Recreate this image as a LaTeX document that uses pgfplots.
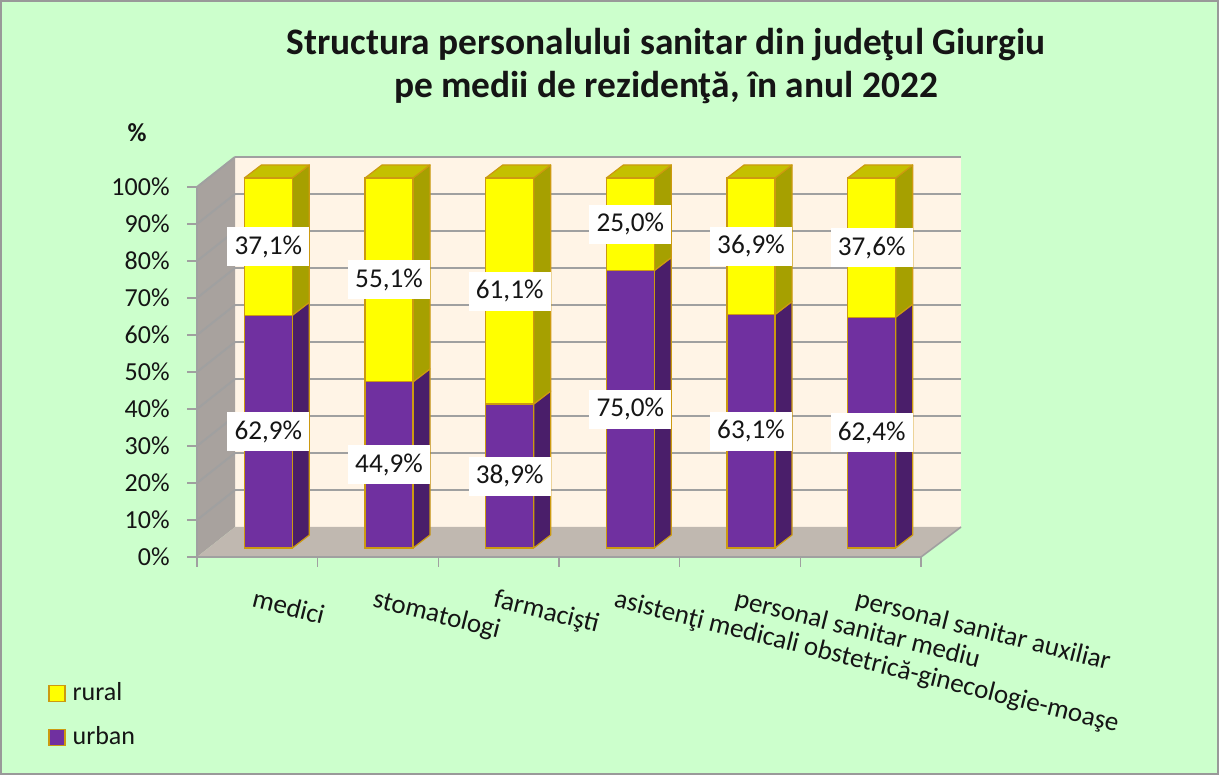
\documentclass[border=0pt]{standalone}
\usepackage{pgfplots}
\pgfplotsset{compat=1.18}
\usepackage{pgfplotstable}
\usepackage{fontspec}
\setmainfont{Carlito}

\definecolor{bgc}{HTML}{CCFFCC}
\definecolor{wallc}{HTML}{FFF4E6}
\definecolor{floorc}{HTML}{C0B8B0}
\definecolor{leftc}{HTML}{A8A29E}
\definecolor{gridc}{HTML}{A0A0A0}
\definecolor{purp}{HTML}{7030A0}
\definecolor{purpside}{HTML}{4A1E6A}
\definecolor{yel}{HTML}{FFFF00}
\definecolor{yelside}{HTML}{A6A000}
\definecolor{yeltop}{HTML}{C4C000}
\definecolor{edgec}{HTML}{CC9A10}
\definecolor{txt}{HTML}{151515}

\pgfplotstableread{
x urban rural
0 62.9 37.1
1 44.9 55.1
2 38.9 61.1
3 75.0 25.0
4 63.1 36.9
5 62.4 37.6
}\data

% bar half width and depth offset, in axis units (1 unit = 60.333pt in x, 1.85pt in y)
\def\hw{0.19890}
\def\ddx{0.14089}
\def\ddy{3.5135}

\pgfplotsset{plane/.style={anchor=south west, scale only axis, width=362pt, height=185pt,
  xmin=-0.5, xmax=5.5, ymin=0, ymax=100,
  enlarge x limits=false, enlarge y limits=false, clip=false,
  axis line style={draw=none}, major tick length=0pt}}

\begin{document}
\begin{tikzpicture}[x=1pt,y=1pt]
\useasboundingbox (0,0) rectangle (609.5,387.5);
\fill[bgc] (0,0) rectangle (609.5,387.5);
\draw[gray!80, line width=0.8pt] (0.4,0.4) rectangle (609.1,387.1);

\node[align=center, text=txt, font=\bfseries\fontsize{18.7}{21.5}\selectfont] at (333,354.3) {Structura personalului sanitar din judeţul Giurgiu\\pe medii de rezidenţă, în anul 2022};
\node[text=txt, font=\bfseries\fontsize{13}{15}\selectfont] at (68.5,321) {\%};

% walls (front plane x 98.5..460.5, y 109..294; back plane x 117.5..479.5, y 124..309)
\fill[wallc] (117.5,124) rectangle (480.5,309);
\fill[leftc] (98.5,109) -- (98.5,294) -- (117.5,309) -- (117.5,124) -- cycle;
\fill[floorc] (98.5,109) -- (460.5,109) -- (480.5,124) -- (117.5,124) -- cycle;
\draw[gridc, line width=0.8pt] (460.5,109) -- (480.5,124);
\foreach \v in {10,20,...,100} {
  \draw[gridc, line width=1pt] (98.5,{109+1.85*\v}) -- (117.5,{124+1.85*\v});
}

% back plane grid
\begin{axis}[plane, at={(117.5pt,124pt)}, width=363pt,
  xtick=\empty, ytick={10,20,...,100}, yticklabels={},
  ymajorgrids, grid style={gridc, line width=1pt}]
\end{axis}

% front plane axis lines and ticks
\draw[gridc, line width=0.8pt] (98.5,294) -- (98.5,109) -- (460.5,109);
\foreach \v in {0,10,...,100} {
  \draw[gridc, line width=0.8pt] (98.5,{109+1.85*\v}) -- (93.5,{109+1.85*\v});
}
\foreach \i in {0,...,6} {
  \draw[gridc, line width=0.8pt] ({98.5+60.333*\i},109) -- ({98.5+60.333*\i},104);
}

% front plane labels
\begin{axis}[plane, at={(98.5pt,109pt)},
  ytick={0,10,...,100},
  yticklabels={0\%,10\%,20\%,30\%,40\%,50\%,60\%,70\%,80\%,90\%,100\%},
  yticklabel style={anchor=east, inner sep=0pt, xshift=-13.5pt, text=txt, font=\fontsize{13}{15}\selectfont},
  xtick={0,...,5},
  xticklabels={medici, stomatologi, farmacişti, asistenţi medicali obstetrică-ginecologie-moaşe, personal sanitar mediu, personal sanitar auxiliar},
  xticklabel style={xshift=-1pt, yshift=-15.5pt, anchor=north west, inner sep=0pt, rotate=-14, text=txt, font=\fontsize{13.5}{16}\selectfont},
]
\end{axis}

% 3D side and top faces of the bars
\begin{axis}[plane, at={(104pt,113.5pt)}, xtick=\empty, ytick=\empty]
\pgfplotsinvokeforeach{0,...,5}{
  \pgfplotstablegetelem{#1}{urban}\of\data \let\u\pgfplotsretval
  \pgfplotstablegetelem{#1}{rural}\of\data \let\r\pgfplotsretval
  \pgfmathsetmacro\xa{#1+\hw}
  \pgfmathsetmacro\xb{#1+\hw+\ddx}
  \pgfmathsetmacro\xl{#1-\hw}
  \pgfmathsetmacro\xlb{#1-\hw+\ddx}
  \pgfmathsetmacro\ua{\u+\ddy}
  \pgfmathsetmacro\t{\u+\r}
  \pgfmathsetmacro\ta{\u+\r+\ddy}
  \addplot[fill=purpside, draw=edgec, line width=0.6pt, line join=round] coordinates {(\xa,0) (\xa,\u) (\xb,\ua) (\xb,\ddy)} -- cycle;
  \addplot[fill=yelside, draw=edgec, line width=0.6pt, line join=round] coordinates {(\xa,\u) (\xa,\t) (\xb,\ta) (\xb,\ua)} -- cycle;
  \addplot[fill=yeltop, draw=edgec, line width=0.6pt, line join=round] coordinates {(\xl,\t) (\xa,\t) (\xb,\ta) (\xlb,\ta)} -- cycle;
}
\end{axis}

% bars (front faces)
\begin{axis}[plane, at={(104pt,113.5pt)}, xtick=\empty, ytick=\empty,
  ybar stacked, bar width=24pt]
\addplot[fill=purp, draw=edgec, line width=0.6pt] table[x=x, y=urban] {\data};
\addplot[fill=yel, draw=edgec, line width=0.6pt] table[x=x, y=rural] {\data};
\end{axis}

% value labels and legend
\begin{axis}[plane, at={(104pt,113.5pt)}, hide axis,
  /pgf/number format/.cd, fixed, fixed zerofill, precision=1, use comma, assume math mode=true, /pgfplots/.cd,
  nodes near coords={\pgfmathprintnumber{\pgfplotspointmeta}\%},
  every node near coord/.append style={fill=white, inner xsep=3.6pt, inner ysep=0pt, minimum height=19.5pt, anchor=center, text=txt, font=\fontsize{13.6}{15}\selectfont},
  legend image code/.code={\filldraw[#1, line width=0.6pt] (0pt,-4pt) rectangle (8pt,4pt);},
  legend style={at={(axis description cs:-0.221,-0.355)}, anchor=north west, draw=none, fill=none, font=\fontsize{13}{15}\selectfont, text=txt, row sep=8.5pt, inner sep=0pt, nodes={inner xsep=3.5pt, inner ysep=1.5pt}},
  legend cell align=left,
]
\addlegendimage{fill=yel, draw=edgec}
\addlegendentry{rural}
\addlegendimage{fill=purp, draw=edgec}
\addlegendentry{urban}
\addplot[draw=none, mark=none, point meta=explicit] table[x=x, y expr=\thisrow{urban}/2, meta=urban] {\data};
\addplot[draw=none, mark=none, point meta=explicit] table[x=x, y expr=\thisrow{urban}+\thisrow{rural}/2, meta=rural] {\data};
\end{axis}
\end{tikzpicture}
\end{document}
